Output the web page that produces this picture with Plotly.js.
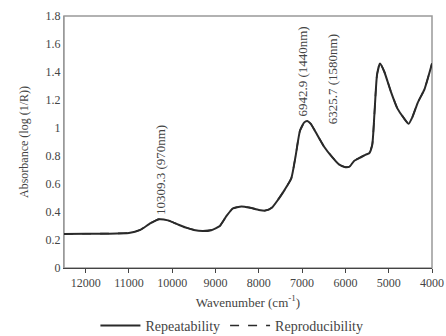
<!DOCTYPE html>
<html>
<head>
<meta charset="utf-8">
<script src="https://cdn.plot.ly/plotly-3.0.1.min.js"></script>
<style>
  html, body { margin: 0; padding: 0; background: #fff; }
  #chart { width: 446px; height: 336px; }
</style>
</head>
<body>
<div id="chart"></div>
<script>
// NIR absorbance spectrum, wavenumber in cm^-1
const wavenumber = [12500, 12000, 11500, 11000, 10750, 10500, 10300, 10100, 9900, 9700,
  9500, 9300, 9100, 8900, 8750, 8600, 8400, 8200, 8000, 7850,
  7700, 7550, 7400, 7250, 7150, 7050, 6950, 6880, 6800, 6650,
  6500, 6300, 6150, 6000, 5900, 5800, 5650, 5530, 5450, 5380,
  5330, 5270, 5200, 5100, 4950, 4800, 4650, 4540, 4450, 4330,
  4170, 4000];

const repeatability = [0.243, 0.244, 0.245, 0.250, 0.270, 0.320, 0.348, 0.340, 0.315, 0.290,
  0.272, 0.264, 0.270, 0.300, 0.370, 0.425, 0.440, 0.430, 0.415, 0.410,
  0.430, 0.490, 0.560, 0.640, 0.800, 0.980, 1.040, 1.050, 1.030, 0.950,
  0.870, 0.790, 0.740, 0.720, 0.725, 0.765, 0.790, 0.810, 0.820, 0.880,
  1.100, 1.380, 1.460, 1.400, 1.260, 1.140, 1.070, 1.030, 1.080, 1.180,
  1.280, 1.460];

const reproducibility = [0.244, 0.245, 0.246, 0.251, 0.271, 0.321, 0.349, 0.341, 0.316, 0.291,
  0.273, 0.265, 0.271, 0.301, 0.371, 0.426, 0.441, 0.431, 0.416, 0.411,
  0.431, 0.491, 0.561, 0.641, 0.801, 0.981, 1.041, 1.051, 1.031, 0.951,
  0.871, 0.791, 0.741, 0.721, 0.726, 0.766, 0.791, 0.811, 0.821, 0.881,
  1.101, 1.381, 1.461, 1.401, 1.261, 1.141, 1.071, 1.031, 1.081, 1.181,
  1.281, 1.461];

const xTicks = [12000, 11000, 10000, 9000, 8000, 7000, 6000, 5000, 4000];
const yTicks = [0, 0.2, 0.4, 0.6, 0.8, 1, 1.2, 1.4, 1.6, 1.8];

// Labelled absorption bands: label text sits above the given absorbance
const bandX = [10309.3, 6942.9, 6325.7];
const bandLabelY = [0.348, 1.050, 1.000];
const bandText = ['10309.3 (970nm)', '6942.9 (1440nm)', '6325.7 (1580nm)'];

const FONT = 'Liberation Serif, Times New Roman, serif';
const INK = '#2a2a2a';
const TEXT = '#444';

const traces = [
  {
    x: wavenumber, y: repeatability, name: 'Repeatability',
    type: 'scatter', mode: 'lines',
    line: { color: INK, width: 2, shape: 'spline', smoothing: 0.5 }
  },
  {
    x: wavenumber, y: reproducibility, name: 'Reproducibility',
    type: 'scatter', mode: 'lines',
    line: { color: INK, width: 1.6, dash: 'dash', shape: 'spline', smoothing: 0.5 }
  }
];

const annotations = bandX.map((bx, i) => ({
  x: bx, y: bandLabelY[i],
  xref: 'x', yref: 'y',
  text: bandText[i], textangle: -90,
  showarrow: false, xanchor: 'center', yanchor: 'bottom',
  xshift: i === 1 ? -3 : 1, yshift: 2,
  font: { family: FONT, size: 13, color: TEXT }
}));

const layout = {
  width: 446, height: 336,
  margin: { l: 64, r: 14, t: 16, b: 68 },
  paper_bgcolor: '#fff', plot_bgcolor: '#fff',
  showlegend: true,
  legend: {
    orientation: 'h', xref: 'container', yref: 'container',
    x: 0.52, xanchor: 'center', y: 0.03, yanchor: 'middle',
    font: { family: FONT, size: 14, color: TEXT },
    itemwidth: 40
  },
  xaxis: {
    range: [12500, 4000], tickvals: xTicks,
    ticktext: xTicks.map(String),
    showgrid: false, zeroline: false, automargin: false,
    showline: true, linecolor: '#444', linewidth: 1,
    ticks: 'outside', ticklen: 4, tickcolor: '#444',
    tickfont: { family: FONT, size: 12, color: TEXT },
    title: { text: 'Wavenumber (cm<sup>-1</sup>)', standoff: 10,
      font: { family: FONT, size: 13, color: TEXT } }
  },
  yaxis: {
    range: [0, 1.8], tickvals: yTicks,
    ticktext: yTicks.map(String),
    showgrid: false, zeroline: false, automargin: false,
    showline: true, linecolor: '#999', linewidth: 1,
    ticks: '',
    tickfont: { family: FONT, size: 12, color: TEXT },
    title: { text: 'Absorbance (log (1/R))', standoff: 14,
      font: { family: FONT, size: 12, color: TEXT } }
  },
  shapes: [
    { type: 'rect', xref: 'paper', yref: 'paper', x0: 0, x1: 1, y0: 0, y1: 1,
      line: { color: '#999', width: 1.5 }, layer: 'below' }
  ],
  annotations: annotations
};

Plotly.newPlot('chart', traces, layout, { displayModeBar: false, staticPlot: true });
</script>
</body>
</html>
